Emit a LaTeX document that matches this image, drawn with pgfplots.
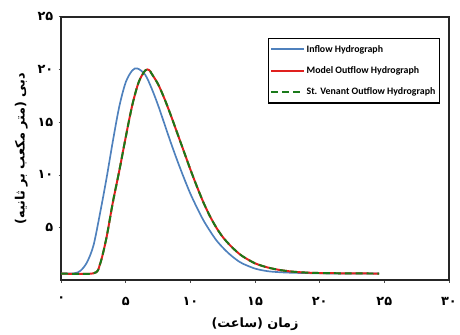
\documentclass[border=0pt]{standalone}
\usepackage{fontspec}
\usepackage{pgfplots}
\pgfplotsset{compat=1.18}
\setmainfont{Carlito}
\newfontfamily\fa[Script=Arabic]{DejaVu Sans}
\TeXXeTstate=1
\definecolor{inblue}{HTML}{4F81BD}
\definecolor{modred}{HTML}{E0201E}
\definecolor{svgreen}{HTML}{1A7A1A}
\begin{document}
\begin{tikzpicture}
\begin{axis}[
  scale only axis, width=393pt, height=267pt,
  xmin=0, xmax=30, ymin=0, ymax=25,
  xtick={0,5,10,15,20,25,30},
  xticklabels={۰,۵,۱۰,۱۵,۲۰,۲۵,۳۰},
  ytick={5,10,15,20,25},
  yticklabels={۵,۱۰,۱۵,۲۰,۲۵},
  ticklabel style={font=\fa\bfseries\fontsize{13}{14}\selectfont},
  tick align=outside, major tick length=2.5pt,
  tick style={black!70, line width=0.6pt},
  xtick pos=bottom, ytick pos=left,
  xticklabel style={yshift=-11pt},
  yticklabel style={xshift=-2pt},
  axis line style={black!85, line width=1.6pt},
  xlabel={\fa\bfseries\beginR زمان (ساعت)\endR},
  ylabel={\fa\bfseries\beginR دبی (متر مکعب بر ثانیه)\endR},
  label style={font=\fontsize{13}{14}\selectfont},
  xlabel style={yshift=-6pt},
  ylabel style={yshift=3pt},
  legend style={at={(rel axis cs:0.977,0.921)}, anchor=north east,
    draw=black, line width=1.4pt, font=\bfseries\fontsize{10}{11}\selectfont,
    row sep=9pt, inner xsep=2pt, inner ysep=5pt},
  legend cell align=left,
  legend image post style={line width=2.2pt},
  legend image code/.code={\draw[#1] (0cm,0cm) -- (1.15cm,0cm);},
]
\addplot[inblue, line width=1.7pt, smooth] coordinates {
(0,0.63) (1.0,0.65) (1.5,0.9) (2.0,1.7) (2.5,3.3) (3.0,6.3) (3.5,9.6)
(4.0,13.2) (4.5,16.5) (5.0,18.8) (5.5,19.9) (5.9,20.1) (6.5,19.5)
(7.0,18.2) (7.5,16.6) (8.0,14.8) (8.5,13.0) (9.0,11.3) (9.5,9.7)
(10.0,8.2) (10.5,6.9) (11.0,5.7) (11.5,4.7) (12.0,3.8) (12.5,3.1)
(13.0,2.5) (13.5,2.0) (14.0,1.6) (15.0,1.1) (16.0,0.85) (17.0,0.75) (18.0,0.7)
(20,0.65) (22,0.63) (24.6,0.63)};
\addlegendentry{Inflow Hydrograph}
\addplot[modred, line width=2pt, smooth] coordinates {
(0,0.63) (2.5,0.65) (3.0,1.5) (3.5,4.0) (4.0,7.4) (4.5,10.4) (5.0,13.6)
(5.5,16.6) (6.0,18.8) (6.5,19.9) (6.8,19.95) (7.0,19.6) (7.5,18.6)
(8.0,17.2) (8.5,15.6) (9.0,13.9) (9.5,12.2) (10.0,10.5) (10.5,8.9)
(11.0,7.4) (11.5,6.1) (12.0,5.0) (12.5,4.1) (13.0,3.4) (13.5,2.8)
(14.0,2.3) (15.0,1.6) (16.0,1.2) (17,0.95) (18,0.8) (19,0.72) (20,0.68)
(22,0.65) (24.6,0.63)};
\addlegendentry{Model Outflow Hydrograph}
\addplot[svgreen, line width=2pt, dash pattern=on 7pt off 4pt, smooth] coordinates {
(0,0.63) (2.5,0.65) (3.0,1.5) (3.5,4.0) (4.0,7.4) (4.5,10.4) (5.0,13.6)
(5.5,16.6) (6.0,18.8) (6.5,19.9) (6.8,19.95) (7.0,19.6) (7.5,18.6)
(8.0,17.2) (8.5,15.6) (9.0,13.9) (9.5,12.2) (10.0,10.5) (10.5,8.9)
(11.0,7.4) (11.5,6.1) (12.0,5.0) (12.5,4.1) (13.0,3.4) (13.5,2.8)
(14.0,2.3) (15.0,1.6) (16.0,1.2) (17,0.95) (18,0.8) (19,0.72) (20,0.68)
(22,0.65) (24.6,0.63)};
\addlegendentry{St. Venant Outflow Hydrograph}
\end{axis}
\path (current axis.south west) ++(-62pt,-54pt) rectangle ++(460pt,338pt);
\end{tikzpicture}
\end{document}
